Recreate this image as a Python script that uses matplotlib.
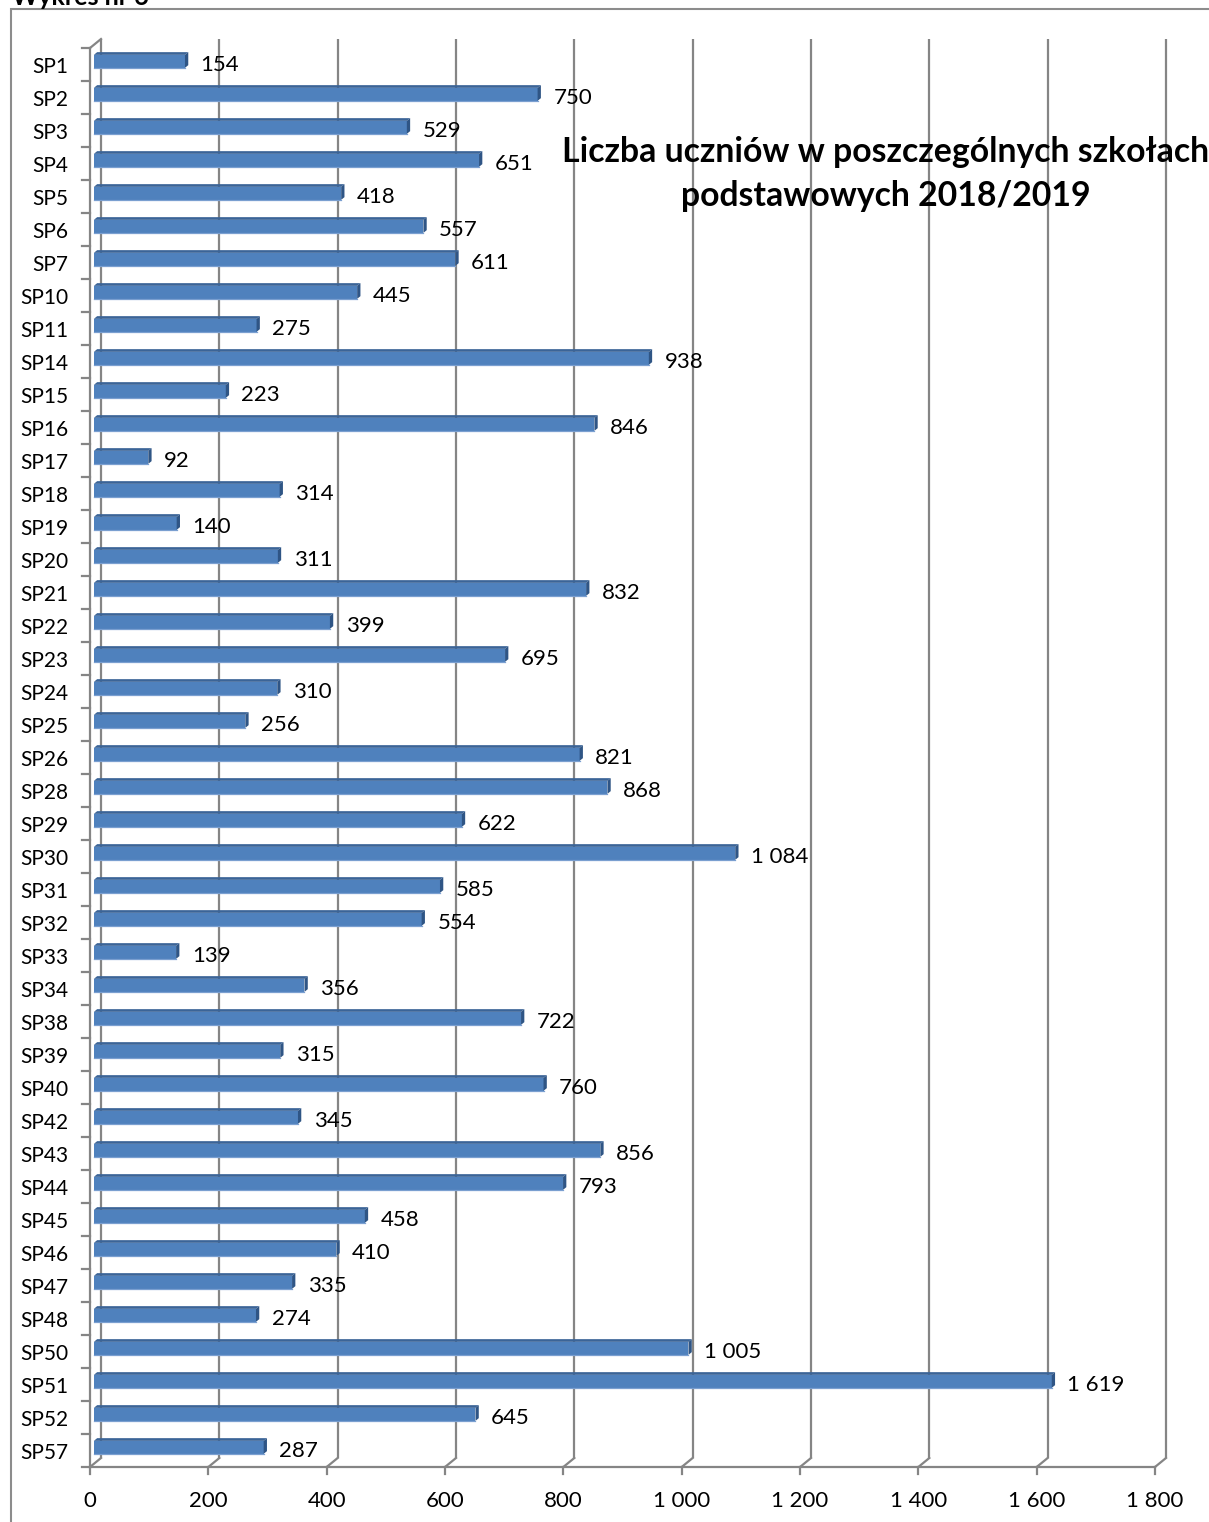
import matplotlib
matplotlib.use("Agg")
import matplotlib.pyplot as plt
from matplotlib.patches import Polygon, Rectangle

categories = ["SP1", "SP2", "SP3", "SP4", "SP5", "SP6", "SP7", "SP10", "SP11", "SP14",
              "SP15", "SP16", "SP17", "SP18", "SP19", "SP20", "SP21", "SP22", "SP23", "SP24",
              "SP25", "SP26", "SP28", "SP29", "SP30", "SP31", "SP32", "SP33", "SP34", "SP38",
              "SP39", "SP40", "SP42", "SP43", "SP44", "SP45", "SP46", "SP47", "SP48", "SP50",
              "SP51", "SP52", "SP57"]
values = [154, 750, 529, 651, 418, 557, 611, 445, 275, 938,
          223, 846, 92, 314, 140, 311, 832, 399, 695, 310,
          256, 821, 868, 622, 1084, 585, 554, 139, 356, 722,
          315, 760, 345, 856, 793, 458, 410, 335, 274, 1005,
          1619, 645, 287]
x_ticks = [0, 200, 400, 600, 800, 1000, 1200, 1400, 1600, 1800]
title_lines = ["Liczba uczniów w poszczególnych szkołach", "podstawowych 2018/2019"]
header = "Wykres nr 6"

FONT = "Lato"
W, H = 1209, 1522
fig = plt.figure(figsize=(W / 100, H / 100), dpi=100)
ax = fig.add_axes([0, 0, 1, 1])
ax.axis("off")

# scale set-up (pixels per value unit, category step)
PX = 1065 / 1800.0
STEP = 33.0
X0 = 90.0
Y0 = 64.5
ax.set_xlim(-X0 / PX, (W - X0) / PX)
ax.set_ylim((H - Y0) / STEP, -Y0 / STEP)

n = len(categories)
xmax = x_ticks[-1]
DX = 11 / PX          # depth offset in value units
DY = -9 / STEP        # depth offset in category units
top = -0.5
bot = n - 0.5
grid_c = "#858585"
glw = 1.6

# back wall gridlines
for t in x_ticks:
    ax.plot([t + DX, t + DX], [top + DY, bot + DY], color=grid_c, lw=glw, zorder=1,
            solid_capstyle="butt")
    # floor connectors
    ax.plot([t, t + DX], [bot, bot + DY], color=grid_c, lw=glw, zorder=1)
    # front ticks
    ax.plot([t, t], [bot, bot + 7 / STEP], color=grid_c, lw=glw, zorder=1)
    ax.text(t, bot + 34 / STEP, f"{t:,}".replace(",", " "), ha="center", va="center",
            fontsize=16, family=FONT, color="black")

# front floor line
ax.plot([0, xmax], [bot, bot], color=grid_c, lw=glw, zorder=1)
# left wall
ax.plot([0, 0], [top, bot], color=grid_c, lw=glw, zorder=1)
ax.plot([0, DX], [top, top + DY], color=grid_c, lw=glw, zorder=1)
for k in range(n + 1):
    yb = k - 0.5
    ax.plot([-8 / PX, 0], [yb, yb], color=grid_c, lw=glw, zorder=1)

# bars
f0, f1 = 0.35, 0.65
bh = 13 / STEP
front_c = "#4F81BD"
top_c = "#3B6497"
side_c = "#2F5585"
for i, (cat, v) in enumerate(zip(categories, values)):
    yc = i + f0 * DY
    xs = f0 * DX
    ax.barh(yc, v, left=xs, height=bh, color=front_c, edgecolor="none", zorder=3)
    ax.plot([xs, xs + v], [yc + bh / 2, yc + bh / 2], color="#7A9FD0", lw=0.9, zorder=3.1)
    d = f1 - f0
    ytop = yc - bh / 2
    ax.add_patch(Polygon([(xs, ytop), (xs + v, ytop), (xs + v + d * DX, ytop + d * DY),
                          (xs + d * DX, ytop + d * DY)], closed=True,
                         facecolor=top_c, edgecolor="none", zorder=3))
    xe = xs + v
    ax.add_patch(Polygon([(xe, ytop), (xe + d * DX, ytop + d * DY),
                          (xe + d * DX, yc + bh / 2 + d * DY), (xe, yc + bh / 2)],
                         closed=True, facecolor=side_c, edgecolor="none", zorder=3))
    ax.text(v + 33, i + 0.02, f"{v:,}".replace(",", " "), ha="left", va="center",
            fontsize=16, family=FONT, color="black", zorder=5)
    ax.text(-37, i + 0.07, cat, ha="right", va="center", fontsize=15,
            family=FONT, color="black")

# title
fig.text(886 / W, 1 - 152 / H, title_lines[0], ha="center", va="center",
         fontsize=24.3, fontweight="bold", family=FONT, color="black", zorder=6)
fig.text(886 / W, 1 - 196 / H, title_lines[1], ha="center", va="center",
         fontsize=24.3, fontweight="bold", family=FONT, color="black", zorder=6)

# header (cut off at top, as in the reference)
fig.text(12 / W, 1 - 5 / H, header, ha="left", va="baseline", fontsize=18,
         fontweight="bold", family=FONT, color="black")

# outer chart border
fig.patches.append(Rectangle((11 / W, -0.01), 1.05, 1 - 9 / H + 0.01, transform=fig.transFigure,
                             facecolor="none", edgecolor="#8C8C8C", lw=1.5, zorder=0))

fig.savefig("out.png", dpi=100)
